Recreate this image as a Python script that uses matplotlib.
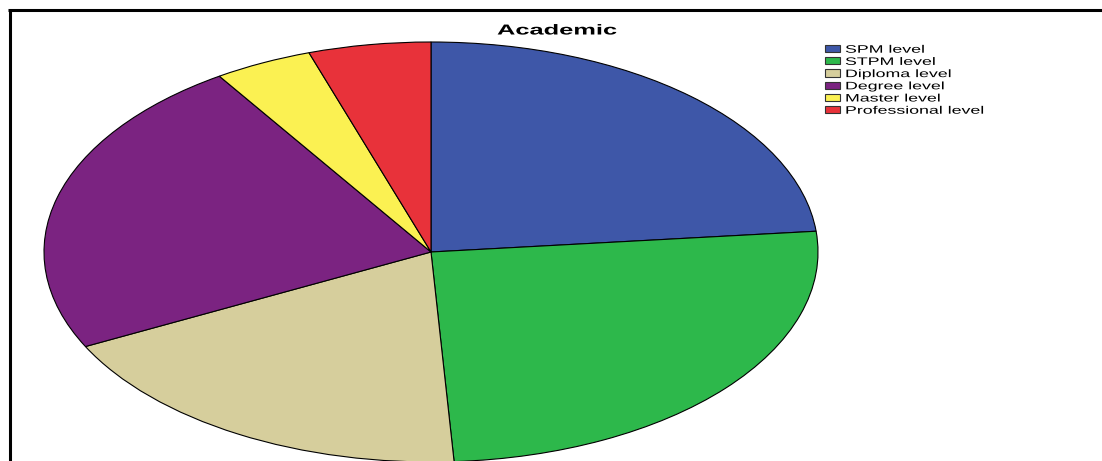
import matplotlib
matplotlib.use("Agg")
import matplotlib.pyplot as plt
from matplotlib.patches import Rectangle
from matplotlib.lines import Line2D
from matplotlib.patheffects import AbstractPathEffect
from matplotlib.transforms import Affine2D

# Data: share of respondents by academic level (percent)
categories = ["SPM level", "STPM level", "Diploma level", "Degree level",
              "Master level", "Professional level"]
shares = [23.4, 25.6, 18.5, 23.2, 4.1, 5.1]
colors = ["#3E57A8", "#2DB84B", "#D6CE9C", "#7B2381", "#FBF152", "#E8323A"]
title = "Academic"

W, H = 1102, 461
DPI = 100


class HStretch(AbstractPathEffect):
    """Widen glyphs horizontally about the text origin."""

    def __init__(self, sx):
        super().__init__()
        self.sx = sx

    def draw_path(self, renderer, gc, tpath, affine, rgbFace=None):
        m = affine.get_matrix().copy()
        m[0, 0] *= self.sx
        m[0, 1] *= self.sx
        renderer.draw_path(gc, tpath, Affine2D(m), rgbFace)


def fx(px):
    return px / W


def fy(py):
    return 1 - py / H


plt.rcParams["font.family"] = ["Liberation Sans", "DejaVu Sans"]

fig = plt.figure(figsize=(W / DPI, H / DPI), dpi=DPI)
fig.patch.set_facecolor("white")

# Elliptical pie
cx, cy, rx, ry = 431, 252, 387, 210
ax = fig.add_axes([fx(cx - rx), fy(cy + ry), (2 * rx) / W, (2 * ry) / H])
ax.pie(shares, colors=colors, startangle=90, counterclock=False,
       radius=1.0, wedgeprops=dict(edgecolor="black", linewidth=0.8))
ax.set_aspect("auto")
ax.set_xlim(-1, 1)
ax.set_ylim(-1, 1)
ax.axis("off")

# Title
fig.text(fx(497), fy(34.5), title, ha="left", va="baseline",
         fontsize=10.4, fontweight="bold", color="black",
         path_effects=[HStretch(1.76)])

# Legend
row0, step = 48.7, 12.2
for i, (lab, col) in enumerate(zip(categories, colors)):
    yc = row0 + i * step
    fig.add_artist(Rectangle((fx(825), fy(yc + 3.6)), 15 / W, 7.2 / H,
                             transform=fig.transFigure, facecolor=col,
                             edgecolor="#333333", linewidth=0.8))
    fig.text(fx(845), fy(yc + 4.0), lab, ha="left", va="baseline",
             fontsize=7.8, color="black", path_effects=[HStretch(1.64)])

# Frame lines (top and left)
fig.add_artist(Line2D([fx(8), fx(W + 2)], [fy(10.3), fy(10.3)],
                      transform=fig.transFigure, color="black",
                      linewidth=2.2, solid_capstyle="butt"))
fig.add_artist(Line2D([fx(9.6), fx(9.6)], [fy(9), fy(H + 2)],
                      transform=fig.transFigure, color="black",
                      linewidth=2.2, solid_capstyle="butt"))

fig.savefig("out.png", dpi=DPI)
